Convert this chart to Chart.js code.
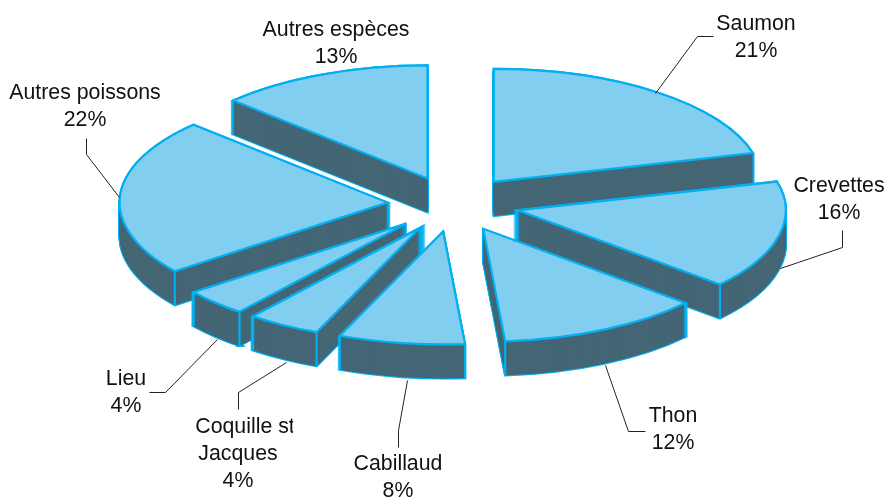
<!DOCTYPE html>
<html lang="fr">
<head>
<meta charset="utf-8">
<title>Espèces</title>
<style>
html,body{margin:0;padding:0;background:#fff;}
#wrap{position:relative;width:889px;height:500px;}
</style>
<script src="https://cdn.jsdelivr.net/npm/chart.js@4/dist/chart.umd.js"></script>
</head>
<body>
<div id="wrap"><canvas id="c" width="889" height="500"></canvas></div>
<script>
const categories = ["Saumon","Crevettes","Thon","Cabillaud","Coquille st Jacques","Lieu","Autres poissons","Autres espèces"];
const values = [20.9,15.5,12.3,7.6,4.4,3.9,22.5,12.9];
const percentLabels = ["21%","16%","12%","8%","4%","4%","22%","13%"];

const TOP = "#82CEF0", DARK = "#446675", EDGE = "#00B0F0", INK = "#111111";
const RADIUS = 268, FLATTEN = 0.4216, DEPTH = 34, STROKE = 2.2, EXPLODE = 66;

const labelLayout = [
  {lines:["Saumon"], x:[756,756], y:[30,57], leader:[[655,93],[697,36],[713,36]]},
  {lines:["Crevettes"], x:[839,839], y:[192,219], leader:[[780,268],[842,247],[842,230]]},
  {lines:["Thon"], x:[673,673], y:[422,449], leader:[[605,365],[628,431],[645,431]]},
  {lines:["Cabillaud"], x:[398,398], y:[470,497], leader:[[407,380],[398,430],[398,447]]},
  {lines:["Coquille st","Jacques"], x:[245,238,238], y:[433,460,487], clipRight:293, leader:[[286,362],[238,392],[238,409]]},
  {lines:["Lieu"], x:[126,126], y:[385,412], leader:[[217,339],[165,392],[149,392]]},
  {lines:["Autres poissons"], x:[85,85], y:[99,126], leader:[[119,197],[86,154],[86,138]]},
  {lines:["Autres espèces"], x:[336,336], y:[36,63]}
];

function faceOptions(fill, line, width){
  return {backgroundColor:fill,borderColor:line,borderWidth:width,borderJoinStyle:'miter',borderAlign:'center',
          offset:0,spacing:0,circular:true,borderRadius:0,borderDash:[],borderDashOffset:0,selfJoin:false};
}

const pie3d = {
  id:'pie3d',
  beforeDatasetsDraw(chart){
    const ctx = chart.ctx, arcs = chart.getDatasetMeta(0).data;
    const nativeStroke = ctx.stroke;
    ctx.stroke = function(){
      const t = ctx.getTransform();
      ctx.setTransform(1,0,0,1,0,0);
      nativeStroke.call(ctx);
      ctx.setTransform(t);
    };
    const mid = a => (a.startAngle + a.endAngle)/2;
    const order = arcs.slice().sort((p,q)=>Math.sin(mid(p))-Math.sin(mid(q)));
    const paint = (arc, dy, opts) => {
      const base = arc.options, m = mid(arc);
      arc.options = opts;
      ctx.save();
      ctx.translate(arc.x + Math.cos(m)*EXPLODE, arc.y + Math.sin(m)*EXPLODE*FLATTEN + dy);
      ctx.scale(1, FLATTEN);
      ctx.translate(-arc.x, -arc.y);
      arc.draw(ctx);
      ctx.restore();
      arc.options = base;
    };
    for(const arc of order){
      const m = mid(arc);
      for(let d=DEPTH;d>=0;d--) paint(arc,d,faceOptions(EDGE,EDGE,STROKE));
      for(let d=DEPTH;d>=0;d--) paint(arc,d,faceOptions(DARK,DARK,0));
      ctx.save();
      ctx.strokeStyle = EDGE; ctx.lineWidth = STROKE;
      for(const a of [arc.startAngle, arc.endAngle]){
        if(Math.sin(a) <= 0) continue;
        const px = arc.x + Math.cos(m)*EXPLODE + arc.outerRadius*Math.cos(a);
        const py = arc.y + (Math.sin(m)*EXPLODE + arc.outerRadius*Math.sin(a))*FLATTEN;
        ctx.beginPath(); ctx.moveTo(px,py); ctx.lineTo(px,py+DEPTH); nativeStroke.call(ctx);
      }
      ctx.restore();
      paint(arc,0,faceOptions(TOP,EDGE,STROKE));
    }
    delete ctx.stroke;
    return false;
  },
  afterDraw(chart){
    const ctx = chart.ctx;
    ctx.save();
    ctx.strokeStyle = "#222"; ctx.lineWidth = 1;
    for(const l of labelLayout){
      if(!l.leader) continue;
      ctx.beginPath();
      l.leader.forEach((p,i)=> i?ctx.lineTo(p[0]+.5,p[1]+.5):ctx.moveTo(p[0]+.5,p[1]+.5));
      ctx.stroke();
    }
    ctx.fillStyle = INK;
    ctx.font = '21.3px "Liberation Sans", Arial, sans-serif';
    ctx.textAlign = 'center'; ctx.textBaseline = 'alphabetic';
    labelLayout.forEach((l,n)=>{
      ctx.save();
      if(l.clipRight){ ctx.beginPath(); ctx.rect(0,0,l.clipRight,500); ctx.clip(); }
      const rows = l.lines.concat(percentLabels[n]);
      rows.forEach((t,i)=>ctx.fillText(t,l.x[i],l.y[i]));
      ctx.restore();
    });
    ctx.restore();
  }
};

new Chart(document.getElementById('c'),{
  type:'pie',
  data:{labels:categories,datasets:[{data:values,radius:RADIUS,backgroundColor:TOP,borderColor:EDGE,borderWidth:STROKE}]},
  options:{
    responsive:false,animation:false,
    layout:{padding:{left:18,right:0,top:0,bottom:92}},
    plugins:{legend:{display:false},tooltip:{enabled:false}},
    events:[]
  },
  plugins:[pie3d]
});
</script>
</body>
</html>
